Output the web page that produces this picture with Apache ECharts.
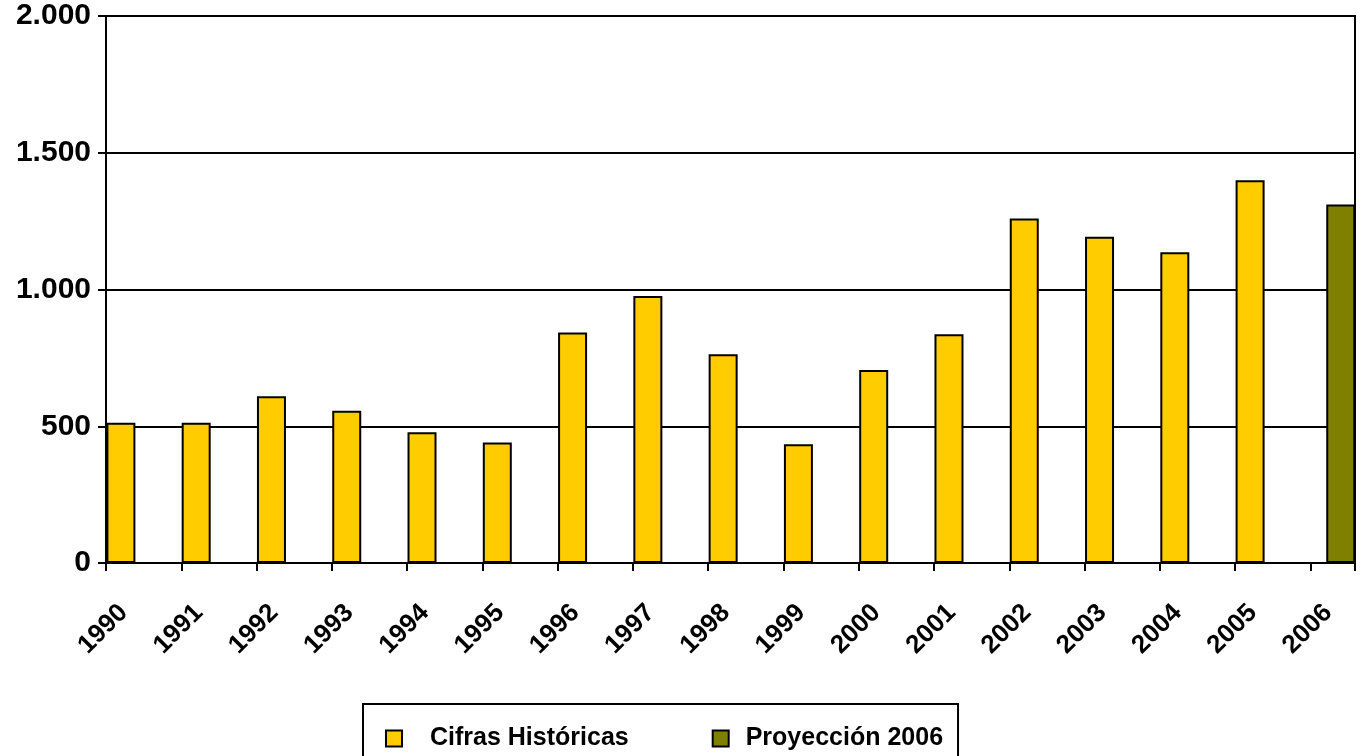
<!DOCTYPE html>
<html>
<head>
<meta charset="utf-8">
<script src="https://cdn.jsdelivr.net/npm/echarts@6/dist/echarts.min.js"></script>
<style>
html,body{margin:0;padding:0;background:#fff;}
#chart{width:1365px;height:756px;}
</style>
</head>
<body>
<div id="chart"></div>
<script>
// ---- data ----
const years = ['1990','1991','1992','1993','1994','1995','1996','1997','1998','1999','2000','2001','2002','2003','2004','2005','2006'];
const historicalYears = ['1990','1991','1992','1993','1994','1995','1996','1997','1998','1999','2000','2001','2002','2003','2004','2005'];
const historicalValues = [513, 513, 610, 557, 478, 441, 843, 976, 763, 434, 706, 836, 1260, 1193, 1136, 1399];
const projectionYears = ['2006'];
const projectionValues = [1311];
const yTicks = [0, 500, 1000, 1500, 2000];
const yTickLabels = ['0', '500', '1.000', '1.500', '2.000'];
const seriesNames = ['Cifras Históricas', 'Proyección 2006'];

// ---- layout constants ----
const TICK_SHIFT = 0.3;            // category ticks sit this far (in category units) left of category centre
const X_SPAN = 1249 / 75.28;       // categories visible across the plot
const FONT = "'Liberation Sans', Arial, Helvetica, sans-serif";

const chart = echarts.init(document.getElementById('chart'), null, {renderer: 'canvas'});

const histData = historicalYears.map((y, i) => [years.indexOf(y), historicalValues[i]]);
const projData = projectionYears.map((y, i) => [years.indexOf(y), projectionValues[i]]);

chart.setOption({
  animation: false,
  backgroundColor: '#ffffff',
  grid: {
    left: 106, top: 16, right: 10, bottom: 193,
    show: true, borderColor: '#000', borderWidth: 2, backgroundColor: 'transparent'
  },
  xAxis: {
    type: 'value',
    min: -TICK_SHIFT,
    max: X_SPAN - TICK_SHIFT,
    interval: 1,
    splitLine: {show: false},
    axisLine: {show: true, onZero: false, lineStyle: {color: '#000', width: 2}},
    axisTick: {show: true, length: 8, lineStyle: {color: '#000', width: 2}},
    axisLabel: {
      rotate: 45,
      margin: 28,
      verticalAlign: 'top',
      lineHeight: 50,
      fontFamily: FONT,
      fontWeight: 'bold',
      fontSize: 26,
      color: '#000',
      showMinLabel: true,
      showMaxLabel: true,
      formatter: function (v) {
        const k = Math.round(v + TICK_SHIFT);
        if (Math.abs(v + TICK_SHIFT - k) > 1e-6) return '';
        return years[k] || '';
      }
    }
  },
  yAxis: {
    type: 'value',
    min: 0, max: 2000, interval: 500,
    axisLine: {show: true, onZero: false, lineStyle: {color: '#000', width: 2}},
    axisTick: {show: true, length: 8, lineStyle: {color: '#000', width: 2}},
    splitLine: {show: true, lineStyle: {color: '#000', width: 2}},
    axisLabel: {
      margin: 15,
      fontFamily: FONT,
      fontWeight: 'bold',
      fontSize: 30,
      color: '#000',
      formatter: function (v) {
        const i = yTicks.indexOf(v);
        return i >= 0 ? yTickLabels[i] : '';
      }
    }
  },
  legend: {
    left: 363, top: 704,
    orient: 'horizontal',
    icon: 'rect',
    itemWidth: 16, itemHeight: 16,
    itemGap: 83,
    padding: [22, 15, 40, 22],
    borderColor: '#000', borderWidth: 2,
    backgroundColor: '#fff',
    textStyle: {fontFamily: FONT, fontWeight: 'bold', fontSize: 25, color: '#000'},
    data: [
      {name: seriesNames[0], textStyle: {padding: [0, 0, 0, 23]}},
      {name: seriesNames[1], textStyle: {padding: [0, 0, 0, 12]}}
    ]
  },
  series: [
    {
      name: seriesNames[0],
      type: 'bar',
      barWidth: 29,
      barGap: '-47%',
      data: histData,
      itemStyle: {color: '#FFCC00', borderColor: '#000', borderWidth: 2}
    },
    {
      name: seriesNames[1],
      type: 'bar',
      barWidth: 29,
      barGap: '-47%',
      data: projData,
      itemStyle: {color: '#808000', borderColor: '#000', borderWidth: 2}
    }
  ]
});
</script>
</body>
</html>
